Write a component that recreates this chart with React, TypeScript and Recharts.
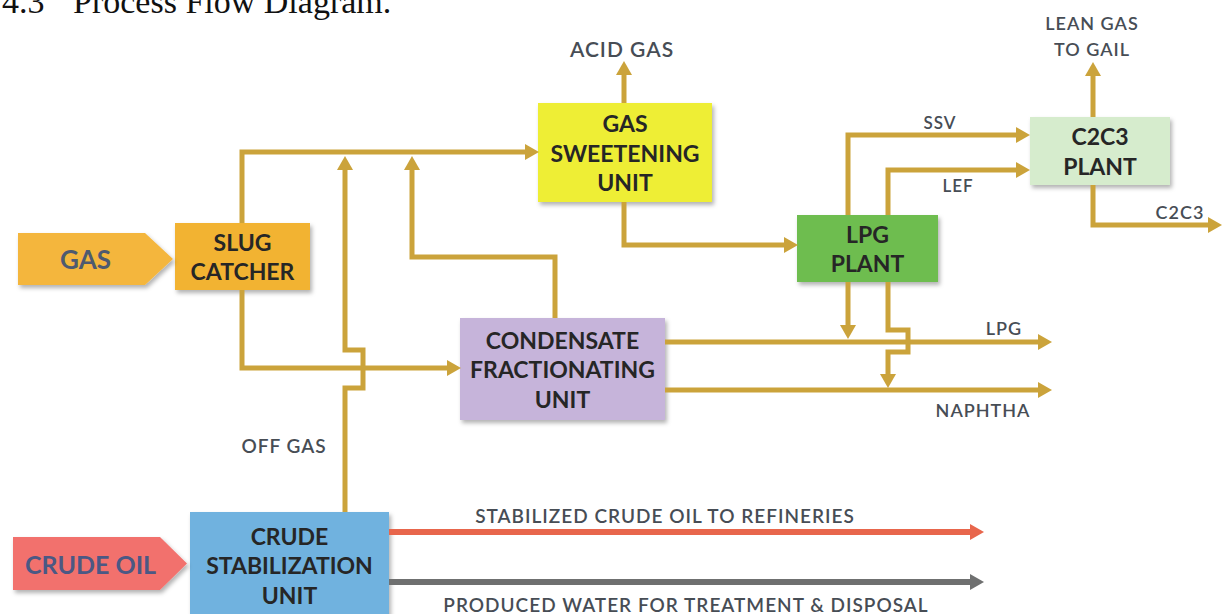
import React from "react";
import { ComposedChart, XAxis, YAxis, Line, Scatter, ReferenceArea } from "recharts";

const W = 1224;
const H = 614;

// process units (diagram coordinates, y grows downward)
const unitNames = ["slug", "sweetening", "lpg", "c2c3", "condensate", "crude"];
const unitText = [
  ["SLUG", "CATCHER"],
  ["GAS", "SWEETENING", "UNIT"],
  ["LPG", "PLANT"],
  ["C2C3", "PLANT"],
  ["CONDENSATE", "FRACTIONATING", "UNIT"],
  ["CRUDE", "STABILIZATION", "UNIT"],
];
const unitX = [[175, 310], [538, 712], [797, 938], [1030, 1170], [460, 665], [190, 389]];
const unitY = [[223, 290], [103, 202], [215, 282], [117, 185], [318, 420], [512, 618]];

// feed arrows on the left: [left, shoulder, tip], [top, bottom]
const feedNames = ["GAS", "CRUDE OIL"];
const feedX = [[18, 145, 173], [13, 160, 187]];
const feedY = [[233, 285], [537, 590]];

// streams, last point is the base of the arrow head
const slugToSweet = [[242, 223], [242, 152], [525, 152]];
const offGas = [[345, 512], [345, 388], [363, 388], [363, 350], [345, 350], [345, 170]];
const condOverhead = [[555, 318], [555, 257], [412, 257], [412, 170]];
const slugToCond = [[242, 290], [242, 368], [447, 368]];
const acidGas = [[624, 103], [624, 75]];
const sweetToLpg = [[624, 202], [624, 245], [784, 245]];
const ssv = [[848, 215], [848, 135], [1016, 135]];
const lef = [[888, 215], [888, 170], [1016, 170]];
const leanGas = [[1093, 117], [1093, 76]];
const c2c3Out = [[1093, 185], [1093, 225], [1208, 225]];
const lpgOut = [[665, 342], [1038, 342]];
const naphthaOut = [[665, 390], [1038, 390]];
const lpgToLpg = [[848, 282], [848, 325]];
const lpgToNaphtha = [[888, 282], [888, 330], [908, 330], [908, 352], [888, 352], [888, 374]];
const crudeOut = [[389, 532], [970, 532]];
const waterOut = [[389, 582], [970, 582]];

const gasStreams = [
  slugToSweet, offGas, condOverhead, slugToCond, acidGas, sweetToLpg, ssv, lef,
  leanGas, c2c3Out, lpgOut, naphthaOut, lpgToLpg, lpgToNaphtha,
];

// stream labels
const labelText = [
  "ACID GAS", "LEAN GAS", "TO GAIL", "SSV", "LEF", "C2C3", "LPG", "NAPHTHA", "OFF GAS",
  "STABILIZED CRUDE OIL TO REFINERIES", "PRODUCED WATER FOR TREATMENT & DISPOSAL",
];
const labelX = [622, 1092, 1092, 940, 958, 1180, 1004, 983, 284, 665, 686];
const labelY = [48, 23, 49, 122, 185, 212, 328, 410, 445, 515, 604];
const labelSize = [21, 18, 18, 17, 17, 18, 18, 18, 19, 19, 19];

const unitFill: Record<string, string> = {
  slug: "#F2B333",
  sweetening: "#EEEE34",
  lpg: "#6EBD4F",
  c2c3: "#D6ECCD",
  condensate: "#C6B4DA",
  crude: "#70B2DF",
};
const feedFill = ["#F4B63E", "#F2716D"];
const feedInk = ["#4E5A70", "#4B5884"];
const GOLD = "#CBA33B";
const FONT = "Lato, 'Open Sans', sans-serif";

function arrowDot(pts: number[][], color: string) {
  return (props: any) => {
    const { cx, cy, index } = props;
    if (index !== pts.length - 1 || cx == null) return <g key={`d${index}`} />;
    const [x0, y0] = pts[index - 1];
    const [x1, y1] = pts[index];
    const len = Math.hypot(x1 - x0, y1 - y0) || 1;
    const ux = (x1 - x0) / len;
    const uy = (y1 - y0) / len;
    const L = 14;
    const hw = 8;
    const p = [
      [cx + ux * L, cy + uy * L],
      [cx - uy * hw, cy + ux * hw],
      [cx + uy * hw, cy - ux * hw],
    ];
    return <polygon key={`d${index}`} points={p.map((q) => q.join(",")).join(" ")} fill={color} />;
  };
}

function unitShape(lines: string[], fill: string) {
  return (props: any) => {
    const { x, y, width, height } = props;
    const mid = y + height / 2;
    const lh = 29.5;
    return (
      <g>
        <rect x={x} y={y} width={width} height={height} fill={fill} filter="url(#shadow)" />
        {lines.map((t, i) => (
          <text
            key={t + i}
            x={x + width / 2}
            y={mid + (i - (lines.length - 1) / 2) * lh}
            textAnchor="middle"
            dominantBaseline="central"
            fontFamily={FONT}
            fontWeight={700}
            fontSize={23}
            fill="#262626"
          >
            {t}
          </text>
        ))}
      </g>
    );
  };
}

function feedShape(i: number) {
  return (props: any) => {
    const { y, height } = props;
    const [l, s, t] = feedX[i];
    const pts = [[l, y], [s, y], [t, y + height / 2], [s, y + height], [l, y + height]];
    return (
      <g>
        <polygon points={pts.map((q) => q.join(",")).join(" ")} fill={feedFill[i]} filter="url(#shadow)" />
        <text
          x={(l + s) / 2 + 4}
          y={y + height / 2}
          textAnchor="middle"
          dominantBaseline="central"
          fontFamily={FONT}
          fontWeight={700}
          fontSize={i === 0 ? 26 : 25}
          fill={feedInk[i]}
        >
          {feedNames[i]}
        </text>
      </g>
    );
  };
}

function LabelShape(props: any) {
  const { cx, cy, payload } = props;
  return (
    <text
      x={cx}
      y={cy}
      textAnchor="middle"
      dominantBaseline="central"
      fontFamily={FONT}
      fontWeight={600}
      fontSize={payload.size}
      letterSpacing={1}
      fill="#474D55"
    >
      {payload.text}
    </text>
  );
}

export default function App() {
  const labels = labelText.map((text, i) => ({ x: labelX[i], y: labelY[i], text, size: labelSize[i] }));
  const toData = (pts: number[][]) => pts.map(([x, y]) => ({ x, y }));

  return (
    <div style={{ position: "absolute", left: 0, top: 0, background: "#fff" }}>
      <ComposedChart width={W} height={H} margin={{ top: 0, right: 0, bottom: 0, left: 0 }}>
        <defs>
          <filter id="shadow" x="-10%" y="-10%" width="125%" height="135%">
            <feDropShadow dx="2" dy="3" stdDeviation="2" floodColor="#000" floodOpacity="0.3" />
          </filter>
        </defs>
        <XAxis type="number" dataKey="x" domain={[0, W]} hide allowDataOverflow />
        <YAxis type="number" dataKey="y" domain={[0, H]} reversed hide allowDataOverflow />

        <text x={2} y={13} fontFamily="'Liberation Serif', serif" fontSize={34} fill="#111">
          4.3
        </text>
        <text x={73} y={13} fontFamily="'Liberation Serif', serif" fontSize={34} fill="#111">
          Process Flow Diagram.
        </text>

        {gasStreams.map((pts, i) => (
          <Line
            key={`g${i}`}
            data={toData(pts)}
            dataKey="y"
            type="linear"
            stroke={GOLD}
            strokeWidth={5}
            dot={arrowDot(pts, GOLD)}
            activeDot={false}
            isAnimationActive={false}
          />
        ))}
        <Line
          data={toData(crudeOut)}
          dataKey="y"
          stroke="#E8664C"
          strokeWidth={6}
          dot={arrowDot(crudeOut, "#E8664C")}
          activeDot={false}
          isAnimationActive={false}
        />
        <Line
          data={toData(waterOut)}
          dataKey="y"
          stroke="#6F7070"
          strokeWidth={6}
          dot={arrowDot(waterOut, "#6F7070")}
          activeDot={false}
          isAnimationActive={false}
        />

        {unitNames.map((n, i) => (
          <ReferenceArea
            key={n}
            x1={unitX[i][0]}
            x2={unitX[i][1]}
            y1={unitY[i][0]}
            y2={unitY[i][1]}
            ifOverflow="visible"
            shape={unitShape(unitText[i], unitFill[n])}
          />
        ))}
        {feedNames.map((n, i) => (
          <ReferenceArea
            key={n}
            x1={feedX[i][0]}
            x2={feedX[i][2]}
            y1={feedY[i][0]}
            y2={feedY[i][1]}
            ifOverflow="visible"
            shape={feedShape(i)}
          />
        ))}

        <Scatter data={labels} dataKey="y" shape={LabelShape} isAnimationActive={false} />
      </ComposedChart>
    </div>
  );
}
